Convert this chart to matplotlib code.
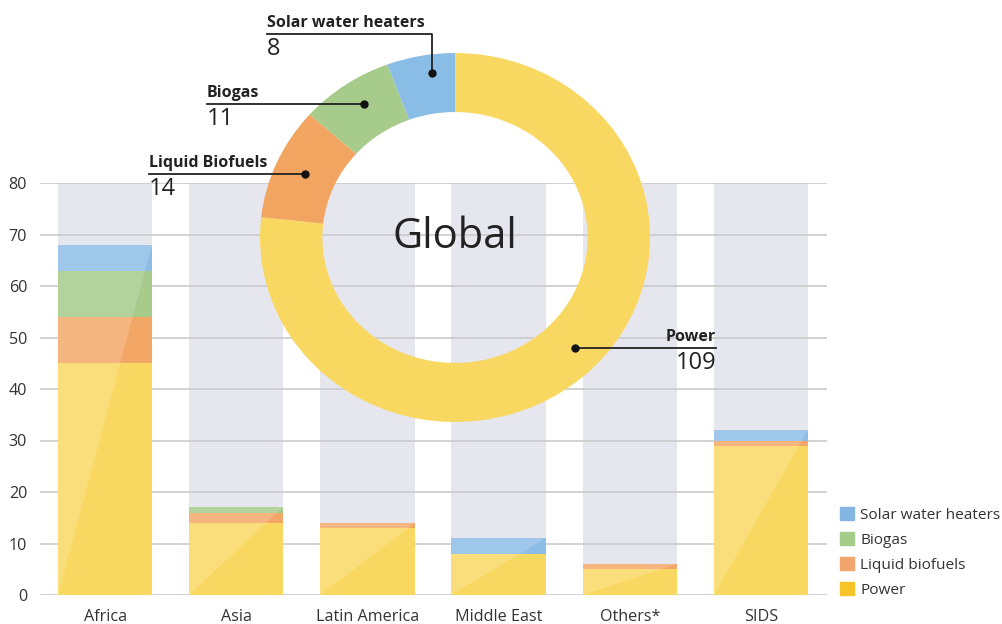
import matplotlib
matplotlib.use("Agg")
import matplotlib.pyplot as plt
import numpy as np
from matplotlib.patches import Polygon, Patch
from matplotlib.lines import Line2D

plt.rcParams['font.family'] = ['Open Sans', 'DejaVu Sans']

# ---- data ----
regions = ["Africa", "Asia", "Latin America", "Middle East", "Others*", "SIDS"]
power = [45, 14, 13, 8, 5, 29]
liquid_biofuels = [9, 2, 1, 0, 1, 1]
biogas = [9, 1, 0, 0, 0, 0]
solar_water = [5, 0, 0, 3, 0, 2]
axis_max = 80
yticks = [0, 10, 20, 30, 40, 50, 60, 70, 80]

global_labels = ["Power", "Liquid Biofuels", "Biogas", "Solar water heaters"]
global_values = [109, 14, 11, 8]

# ---- styling ----
c_power = "#F9D862"
c_liquid = "#F2A766"
c_biogas = "#A6CB8A"
c_solar = "#8CBDE6"
c_bg = "#E6E6EF"
c_grid = "#CBCBCB"
c_text = "#333333"

W, H = 1002, 624
fig = plt.figure(figsize=(W / 100, H / 100), dpi=100)

def fx(px):
    return px / W

def fy(py):
    return 1 - py / H

# bar axes
ax = fig.add_axes([fx(39.5), fy(595), fx(826.5) - fx(39.5), fy(183) - fy(595)])
x = np.arange(len(regions))
bw = 0.72
ax.set_xlim(-0.5, len(regions) - 0.5)
ax.set_ylim(0, axis_max)

ax.bar(x, [axis_max] * len(regions), width=bw, color=c_bg, zorder=0.5, linewidth=0)
for t in yticks:
    ax.axhline(t, color=c_grid, lw=1.2, zorder=1)

series = [(power, c_power), (liquid_biofuels, c_liquid), (biogas, c_biogas), (solar_water, c_solar)]
bottom = np.zeros(len(regions))
for vals, col in series:
    ax.bar(x, vals, width=bw, bottom=bottom, color=col, zorder=2, linewidth=0)
    bottom += np.array(vals)

# diagonal sheen on each bar
for xi, top in zip(x, bottom):
    x0, x1 = xi - bw / 2, xi + bw / 2
    ax.add_patch(Polygon([(x0, 0), (x0, top), (x1, top)], closed=True,
                         facecolor="white", alpha=0.16, lw=0, zorder=3))

ax.set_yticks(yticks)
ax.set_xticks(x)
ax.set_xticklabels(regions)
ax.tick_params(axis="both", length=0, labelsize=11.6, colors=c_text)
ax.tick_params(axis="y", pad=9)
ax.tick_params(axis="x", pad=10)
for s in ax.spines.values():
    s.set_visible(False)

# legend
handles = [Patch(color="#82B7E3", label="Solar water heaters"),
           Patch(color="#A4CD8A", label="Biogas"),
           Patch(color="#F1A46C", label="Liquid biofuels"),
           Patch(color="#F7C428", label="Power")]
fig.legend(handles=handles, loc="upper left", bbox_to_anchor=(fx(834), fy(501)),
           frameon=False, fontsize=11.1, handlelength=0.9, handleheight=0.9,
           handletextpad=0.4, labelspacing=0.6, labelcolor=c_text, borderaxespad=0)

# donut
dax = fig.add_axes([fx(260), fy(422), fx(650) - fx(260), fy(53) - fy(422)])
donut_colors = [c_power, "#F2A560", c_biogas, "#8ABDE5"]
ring = 0.32
dax.pie(global_values, colors=donut_colors, startangle=90, counterclock=False,
        radius=1, wedgeprops=dict(width=ring, linewidth=0))
dax.set_aspect("auto")
dax.set_xlim(-1, 1)
dax.set_ylim(-1, 1)
dax.axis("off")
dax.text(0, 0, "Global", ha="center", va="center", fontsize=30, color="#222222")

# compute wedge mid-angles
tot = sum(global_values)
ang = 90.0
mids = []
for v in global_values:
    a0 = ang
    a1 = ang - v / tot * 360
    mids.append(np.deg2rad((a0 + a1) / 2))
    ang = a1

def dot_fig(theta, r):
    pt = dax.transData.transform((r * np.cos(theta), r * np.sin(theta)))
    return fig.transFigure.inverted().transform(pt)

# label placement (pixel coordinates of label edge)
label_pos = {
    "Solar water heaters": dict(xpx=267, side="left", line_y=34, r=0.9, dang=-2.5),
    "Biogas": dict(xpx=207, side="left", line_y=None, r=0.86, dang=-1.5),
    "Liquid Biofuels": dict(xpx=149, side="left", line_y=None, r=0.84, dang=0),
    "Power": dict(xpx=716, side="right", line_y=None, r=0.86, dang=4),
}

for lab, val, th in zip(global_labels, global_values, mids):
    p = label_pos[lab]
    d = dot_fig(th + np.deg2rad(p["dang"]), p["r"])
    ly = fy(p["line_y"]) if p["line_y"] is not None else d[1]
    xt = fx(p["xpx"])
    if p["line_y"] is not None:
        xs = [xt, d[0], d[0]]
        ys = [ly, ly, d[1]]
    else:
        xs = [xt, d[0]]
        ys = [ly, ly]
    fig.add_artist(Line2D(xs, ys, transform=fig.transFigure, color="#222222", lw=1.3))
    fig.add_artist(Line2D([d[0]], [d[1]], transform=fig.transFigure, marker="o",
                          markersize=5, color="#111111", lw=0))
    ha = "left" if p["side"] == "left" else "right"
    fig.text(xt, ly + fy(0) - fy(3), lab, ha=ha, va="bottom", fontsize=11.5,
             fontweight="bold", color="#222222")
    fig.text(xt, ly - (fy(0) - fy(3)), str(val), ha=ha, va="top", fontsize=17,
             color="#222222")

fig.savefig("out.png", dpi=100)
